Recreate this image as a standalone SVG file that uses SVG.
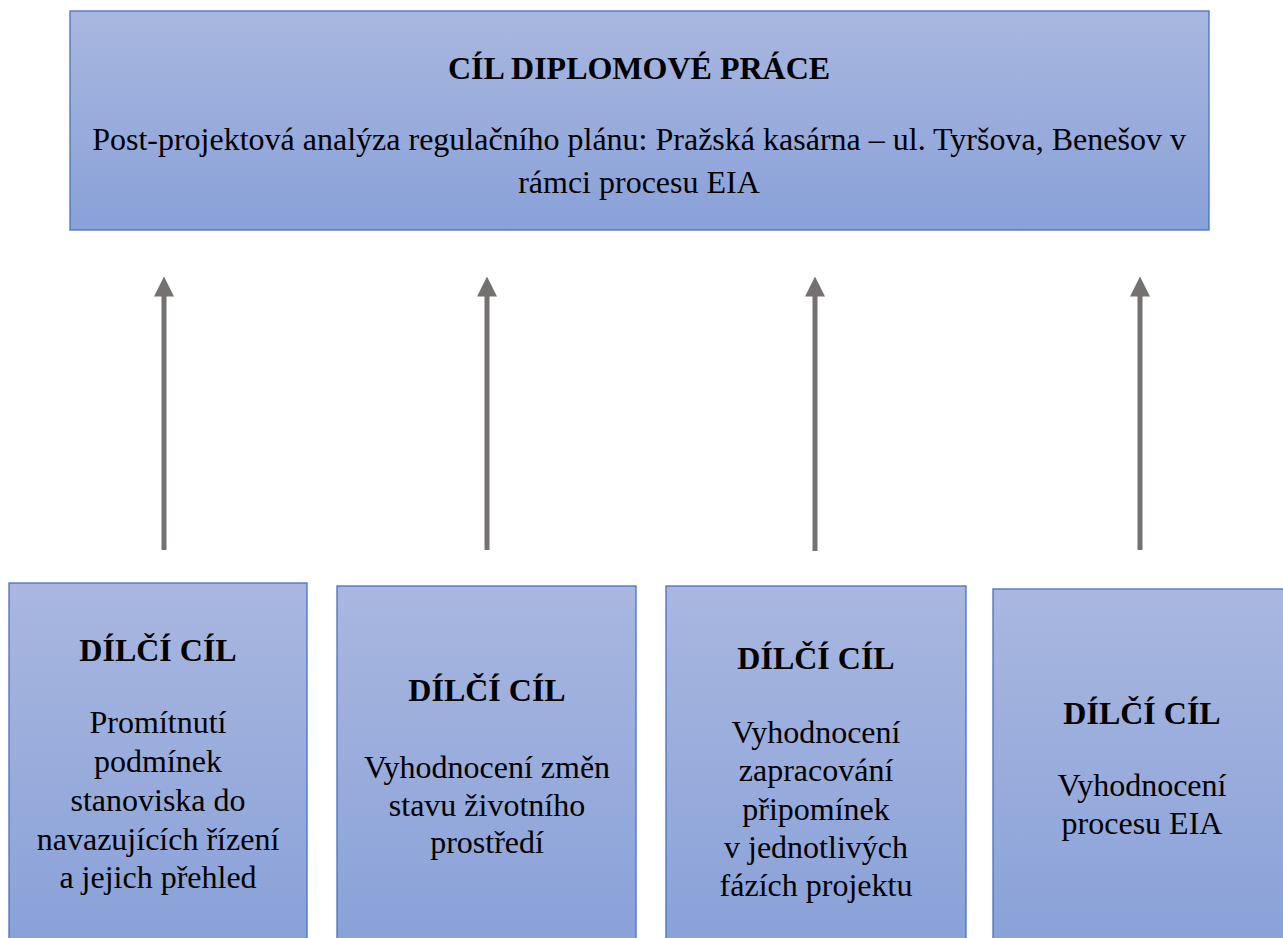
<svg xmlns="http://www.w3.org/2000/svg" width="1283" height="938" viewBox="0 0 1283 938">
<style>
.box{fill:url(#g);stroke:#4472C4;stroke-width:1.3}
.t{font-family:"Liberation Serif","Times New Roman",serif;font-size:32px;fill:#000;text-anchor:middle}
.h{font-weight:bold}
.ar{stroke:#767171;stroke-width:5;fill:none}
</style>
<defs>
<linearGradient id="g" x1="0" y1="0" x2="0" y2="1">
<stop offset="0" stop-color="#A9B7E0"/>
<stop offset="1" stop-color="#89A1D8"/>
</linearGradient>
<marker id="ah" markerWidth="5" markerHeight="4" refX="0.5" refY="2" orient="auto" markerUnits="strokeWidth">
<path d="M0,0 L4,2 L0,4 Z" fill="#767171"/>
</marker>
</defs>
<rect width="1283" height="938" fill="#fff"/>
<g id="main">
<rect class="box" x="70" y="11" width="1139" height="219"/>
<text class="t h" x="639" y="79">CÍL DIPLOMOVÉ PRÁCE</text>
<text class="t" x="639" y="150">Post-projektová analýza regulačního plánu: Pražská kasárna – ul. Tyršova, Benešov v</text>
<text class="t" x="639" y="193">rámci procesu EIA</text>
</g>
<g id="connectors">
<line class="ar" x1="164" y1="550" x2="164" y2="294" marker-end="url(#ah)"/>
<line class="ar" x1="487" y1="550" x2="487" y2="294" marker-end="url(#ah)"/>
<line class="ar" x1="815" y1="551" x2="815" y2="294" marker-end="url(#ah)"/>
<line class="ar" x1="1140" y1="550" x2="1140" y2="294" marker-end="url(#ah)"/>
</g>
<g id="n1">
<rect class="box" x="9" y="583" width="298" height="360"/>
<text class="t h" x="158" y="661">DÍLČÍ CÍL</text>
<text class="t" x="158" y="733">Promítnutí</text>
<text class="t" x="158" y="772">podmínek</text>
<text class="t" x="158" y="811">stanoviska do</text>
<text class="t" x="158" y="850">navazujících řízení</text>
<text class="t" x="158" y="888">a jejich přehled</text>
</g>
<g id="n2">
<rect class="box" x="337" y="586" width="299" height="360"/>
<text class="t h" x="487" y="701">DÍLČÍ CÍL</text>
<text class="t" x="487" y="778">Vyhodnocení změn</text>
<text class="t" x="487" y="816">stavu životního</text>
<text class="t" x="487" y="853">prostředí</text>
</g>
<g id="n3">
<rect class="box" x="666" y="586" width="300" height="360"/>
<text class="t h" x="816" y="669">DÍLČÍ CÍL</text>
<text class="t" x="816" y="743">Vyhodnocení</text>
<text class="t" x="816" y="781">zapracování</text>
<text class="t" x="816" y="820">připomínek</text>
<text class="t" x="816" y="858">v jednotlivých</text>
<text class="t" x="816" y="896">fázích projektu</text>
</g>
<g id="n4">
<rect class="box" x="993" y="589" width="296" height="360"/>
<text class="t h" x="1142" y="724">DÍLČÍ CÍL</text>
<text class="t" x="1142" y="796">Vyhodnocení</text>
<text class="t" x="1142" y="834">procesu EIA</text>
</g>
</svg>
